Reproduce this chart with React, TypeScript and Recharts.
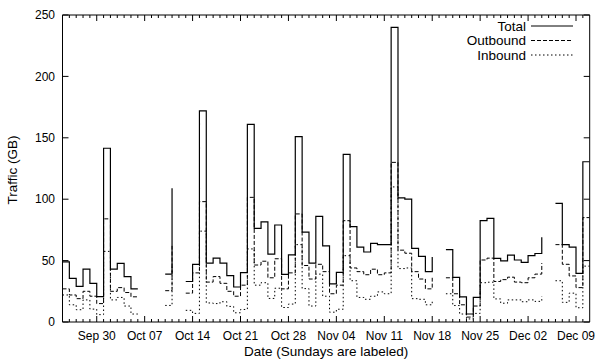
import React from 'react';
import { LineChart, Line, XAxis, YAxis, ReferenceArea, Legend } from 'recharts';

// Day index 0 = Sep 25; each value is held for the whole day (step)
const totalGB: (number | null)[] = [
  49, 35.6, 29, 43, 31.5, 20.6, 141.5, 43, 47.8, 37, 27, 27,
  null, null, null, 39, 109, null,
  33, 47, 172, 48, 52, 48, 37.7, 28.5, 40.2, 161, 76.3, 81.5, 55.2, 79, 38.8, 54.6, 151, 73.2, 48, 86, 62, 31, 40.4,
  136.5, 77.6, 61, 57, 64, 63, 63, 240, 101, 100, 60, 53.5, 41, 53,
  null,
  59, 36.4, 20.5, 6.5, 20, 82.5, 84.4, 51.8, 49.8, 54.5, 50.5, 48.5, 54, 55.8, 69,
  null,
  96.6, 63, 61, 39.6, 130.5, 130.5,
];

const outboundGB: (number | null)[] = [
  27, 22, 19, 25, 21, 15, 84, 25, 28, 24, 20.5, 20.5,
  null, null, null, 25.5, 62, null,
  23.5, 40, 98, 32.5, 37, 31.5, 25, 21, 30, 101.5, 46.4, 49.5, 36, 51.5, 27, 40, 88, 46, 35, 47, 41, 23, 30,
  82.5, 44, 41, 38.5, 43, 38.5, 40, 130, 58.5, 56, 41, 35, 27, 36,
  null,
  36, 23, 14, 4, 13, 50.5, 52, 33, 34.5, 36.5, 32.5, 32, 36, 39, 48,
  null,
  63, 47, 37.5, 28, 85, 85,
];

const inboundGB: (number | null)[] = [
  22, 14, 10, 18, 10.5, 6, 57.5, 18, 20, 13, 6.5, 6.5,
  null, null, null, 13.5, 47, null,
  9.5, 7, 74, 15.5, 15, 16.5, 12.7, 7.5, 10.2, 59.5, 30, 32, 19.2, 27.5, 11.8, 14.6, 63, 27.2, 13, 39, 21, 8, 10.4,
  54, 33.6, 20, 18.5, 21, 24.5, 23, 110, 43.5, 44, 19, 18.5, 14, 17,
  null,
  23, 13.4, 6.5, 2.5, 7, 32, 32.4, 18.8, 15.3, 18, 18, 16.5, 18, 16.8, 21,
  null,
  33.6, 16, 23.5, 11.6, 45.5, 45.5,
];

const sundayDays = [5, 12, 19, 26, 33, 40, 47, 54, 61, 68, 75];
const sundayLabels = ['Sep 30', 'Oct 07', 'Oct 14', 'Oct 21', 'Oct 28', 'Nov 04', 'Nov 11', 'Nov 18', 'Nov 25', 'Dec 02', 'Dec 09'];
const yTicks = [0, 50, 100, 150, 200, 250];

const seriesNames = ['Total', 'Outbound', 'Inbound'];
const seriesDash = ['', '4 2', '1.5 2.5'];

const data = totalGB.map((t, i) => ({
  day: i,
  total: t,
  outbound: outboundGB[i],
  inbound: inboundGB[i],
}));

const dayTicks = data.map((d) => d.day).filter((d) => d > 0 && d < data.length - 1);

// layout
const W = 602;
const H = 362;
const PLOT_LEFT = 62.5;
const PLOT_RIGHT = 589.7;
const PLOT_TOP = 15;
const PLOT_BOTTOM = 322;
const FONT = '"Liberation Sans", Arial, Helvetica, sans-serif';

const XTick = (props: any) => {
  const { x, payload } = props;
  const idx = sundayDays.indexOf(payload.value);
  const len = idx >= 0 ? 6 : 3;
  return (
    <g>
      <line x1={x} x2={x} y1={PLOT_BOTTOM} y2={PLOT_BOTTOM - len} stroke="#000" strokeWidth={1} />
      <line x1={x} x2={x} y1={PLOT_TOP} y2={PLOT_TOP + len} stroke="#000" strokeWidth={1} />
      {idx >= 0 && (
        <text x={x} y={PLOT_BOTTOM + 17.5} textAnchor="middle" fontSize={12} fontFamily={FONT} fill="#000">
          {sundayLabels[idx]}
        </text>
      )}
    </g>
  );
};

const YTick = (props: any) => {
  const { y, payload } = props;
  return (
    <g>
      <line x1={PLOT_LEFT} x2={PLOT_LEFT + 6} y1={y} y2={y} stroke="#000" strokeWidth={1} />
      <line x1={PLOT_RIGHT} x2={PLOT_RIGHT - 6} y1={y} y2={y} stroke="#000" strokeWidth={1} />
      <text x={PLOT_LEFT - 7.5} y={y + 4.2} textAnchor="end" fontSize={12} fontFamily={FONT} fill="#000">
        {payload.value}
      </text>
    </g>
  );
};

const LegendBox = () => (
  <svg width={150} height={50} style={{ display: 'block' }}>
    {seriesNames.map((name, i) => {
      const cy = 11 + i * 14.5;
      return (
        <g key={name}>
          <text x={86} y={cy + 4.8} textAnchor="end" fontSize={13.5} fontFamily={FONT} fill="#000">
            {name}
          </text>
          <line x1={91} x2={133} y1={cy} y2={cy} stroke="#000" strokeWidth={1} strokeDasharray={seriesDash[i] || undefined} />
        </g>
      );
    })}
  </svg>
);

export default function App() {
  return (
    <div style={{ position: 'absolute', left: 0, top: 0, width: W, height: H, background: '#fff' }}>
      <LineChart
        width={W}
        height={H}
        data={data}
        margin={{ top: PLOT_TOP, right: W - PLOT_RIGHT, bottom: 0, left: 0 }}
      >
        <XAxis
          dataKey="day"
          type="number"
          domain={[0, data.length - 1]}
          allowDataOverflow
          ticks={dayTicks}
          interval={0}
          tick={<XTick />}
          tickLine={false}
          axisLine={false}
          tickSize={0}
          tickMargin={0}
          height={H - PLOT_BOTTOM}
          label={{
            content: () => (
              <text x={(PLOT_LEFT + PLOT_RIGHT) / 2} y={356} textAnchor="middle" fontSize={13.5} fontFamily={FONT} fill="#000">
                Date (Sundays are labeled)
              </text>
            ),
          }}
        />
        <YAxis
          type="number"
          domain={[0, 250]}
          allowDataOverflow
          ticks={yTicks}
          interval={0}
          tick={<YTick />}
          tickLine={false}
          axisLine={false}
          tickSize={0}
          tickMargin={0}
          width={PLOT_LEFT}
          label={{
            content: () => (
              <text x={17} y={170} transform="rotate(-90 17 170)" textAnchor="middle" fontSize={13.5} fontFamily={FONT} fill="#000">
                Traffic (GB)
              </text>
            ),
          }}
        />
        <ReferenceArea x1={0} x2={data.length - 1} y1={0} y2={250} fill="none" stroke="#000" strokeWidth={1} ifOverflow="visible" />
        <Line dataKey="total" name="Total" type="stepAfter" stroke="#000" strokeWidth={1.2} dot={false} activeDot={false} isAnimationActive={false} connectNulls={false} />
        <Line dataKey="outbound" name="Outbound" type="stepAfter" stroke="#000" strokeWidth={1} strokeDasharray="4 2" dot={false} activeDot={false} isAnimationActive={false} connectNulls={false} />
        <Line dataKey="inbound" name="Inbound" type="stepAfter" stroke="#000" strokeWidth={1} strokeDasharray="1.5 2.5" dot={false} activeDot={false} isAnimationActive={false} connectNulls={false} />
        <Legend
          layout="horizontal"
          verticalAlign="middle"
          align="center"
          wrapperStyle={{ left: 440, top: 15, width: 150, height: 50 }}
          content={() => <LegendBox />}
        />
      </LineChart>
    </div>
  );
}
